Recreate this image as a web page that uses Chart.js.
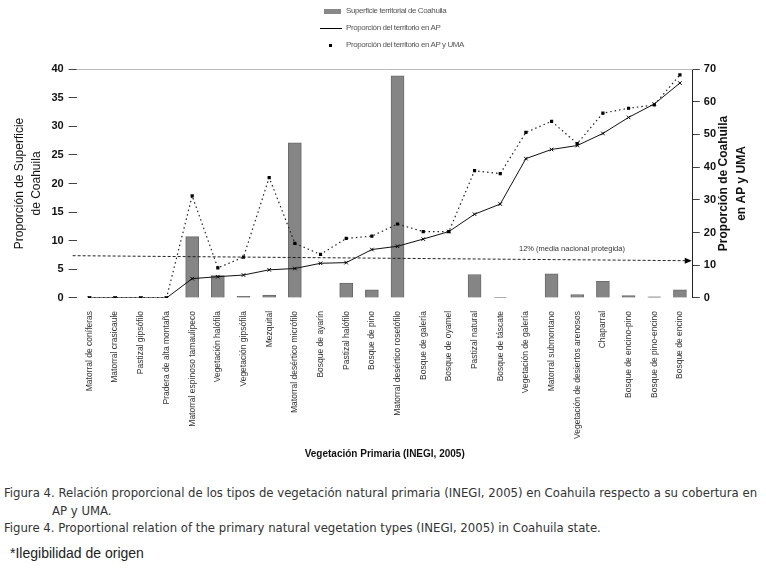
<!DOCTYPE html>
<html>
<head>
<meta charset="utf-8">
<script src="https://cdn.jsdelivr.net/npm/chart.js@4.4.1/dist/chart.umd.min.js"></script>
<style>
  body { margin: 0; background: #fff; width: 766px; height: 569px; overflow: hidden; position: relative; font-family: "Liberation Sans", Arial, sans-serif; }
  #wrap { position: absolute; left: 0; top: 0; width: 766px; height: 470px; }
  #legend { position: absolute; left: 320px; top: 2px; font-size: 8px; color: #555; letter-spacing: -0.4px; }
  #legend div { height: 17px; display: flex; align-items: center; }
  #legend span.sw { display: inline-block; width: 22px; margin-right: 4px; position: relative; height: 8px; }
  #caption { position: absolute; left: 4px; top: 484px; font-family: "Liberation Sans Narrow", "DejaVu Sans Condensed", sans-serif; font-size: 13px; color: #333; line-height: 17.5px; white-space: nowrap; }
  #note { position: absolute; left: 10px; top: 545px; font-size: 14px; color: #222; }
</style>
</head>
<body>
<div id="wrap"><canvas id="chart" width="766" height="470"></canvas></div>
<div id="legend">
  <div><span class="sw"><i style="position:absolute;left:4px;top:2px;width:17px;height:5px;background:#888"></i></span>Superficie territorial de Coahuila</div>
  <div><span class="sw"><i style="position:absolute;left:0;top:4px;width:22px;height:1px;background:#000"></i></span>Proporción del territorio en AP</div>
  <div><span class="sw"><i style="position:absolute;left:9px;top:3px;width:3px;height:3px;background:#000"></i></span>Proporción del territorio en AP y UMA</div>
</div>
<div id="caption">
  <div>Figura 4. Relación proporcional de los tipos de vegetación natural primaria (INEGI, 2005) en Coahuila respecto a su cobertura en</div>
  <div style="padding-left:48px">AP y UMA.</div>
  <div>Figure 4. Proportional relation of the primary natural vegetation types (INEGI, 2005) in Coahuila state.</div>
</div>
<div id="note">*Ilegibilidad de origen</div>
<script>
const categories = [
  "Matorral de coníferas", "Matorral crasicaule", "Pastizal gipsófilo", "Pradera de alta montaña",
  "Matorral espinoso tamaulipeco", "Vegetación halófila", "Vegetación gipsófila", "Mezquital",
  "Matorral desértico micrófilo", "Bosque de ayarín", "Pastizal halófilo", "Bosque de pino",
  "Matorral desértico rosetófilo", "Bosque de galería", "Bosque de oyamel", "Pastizal natural",
  "Bosque de táscate", "Vegetación de galería", "Matorral submontano", "Vegetación de desiertos arenosos",
  "Chaparral", "Bosque de encino-pino", "Bosque de pino-encino", "Bosque de encino"
];
// % of Coahuila surface (left axis)
const surface = [0, 0, 0, 0, 10.7, 3.9, 0.3, 0.5, 27.1, 0, 2.6, 1.4, 38.8, 0, 0, 4.1, 0.1, 0, 4.2, 0.6, 2.9, 0.4, 0.2, 1.4];
// % of each type inside AP (right axis)
const inAP = [0, 0, 0, 0, 5.9, 6.5, 7, 8.6, 9, 10.6, 10.8, 14.8, 15.8, 18, 20.3, 25.6, 28.7, 42.6, 45.4, 46.6, 50.3, 55.2, 59.3, 65.7];
// % of each type inside AP and UMA (right axis)
const inAPUMA = [0, 0, 0, 0, 31.2, 9.2, 12.5, 36.8, 16.7, 13.3, 18.2, 18.9, 22.6, 20.3, 20.3, 38.9, 38, 50.6, 54, 47.2, 56.5, 58, 59, 68.2];
const leftTicks = [0, 5, 10, 15, 20, 25, 30, 35, 40];
const rightTicks = [0, 10, 20, 30, 40, 50, 60, 70];
const rightTitle = ["Proporción de Coahuila", "en AP y UMA"];
const nationalMean = 12;
const nationalLabel = "12% (media nacional protegida)";

const meanLine = {
  id: "meanLine",
  afterDatasetsDraw(chart) {
    const { ctx, chartArea } = chart;
    const y = chart.scales.yR.getPixelForValue(nationalMean);
    ctx.save();
    ctx.strokeStyle = "#222";
    ctx.lineWidth = 1;
    ctx.setLineDash([3, 2]);
    ctx.beginPath();
    ctx.moveTo(chartArea.left - 4, y - 3);
    ctx.lineTo(chartArea.right - 6, y + 2);
    ctx.stroke();
    ctx.setLineDash([]);
    ctx.beginPath();
    ctx.moveTo(chartArea.right - 1, y + 2);
    ctx.lineTo(chartArea.right - 8, y - 1);
    ctx.lineTo(chartArea.right - 8, y + 5);
    ctx.closePath();
    ctx.fillStyle = "#000";
    ctx.fill();
    ctx.font = "7.5px 'Liberation Sans Narrow', 'Liberation Sans', sans-serif";
    ctx.fillStyle = "#333";
    ctx.textBaseline = "bottom";
    ctx.fillText(nationalLabel, 519, y - 6);
    ctx.restore();
  }
};

// right title reads bottom-to-top like the left one
const rightTitlePlugin = {
  id: "rightTitle",
  afterDraw(chart) {
    const { ctx, chartArea } = chart;
    const cy = (chartArea.top + chartArea.bottom) / 2;
    ctx.save();
    ctx.font = "bold 12px 'Liberation Sans', Arial, sans-serif";
    ctx.fillStyle = "#111";
    ctx.textAlign = "center";
    ctx.textBaseline = "middle";
    [724, 742].forEach((x, i) => {
      ctx.save();
      ctx.translate(x, cy);
      ctx.rotate(-Math.PI / 2);
      ctx.fillText(rightTitle[i], 0, 0);
      ctx.restore();
    });
    ctx.restore();
  }
};

const topRule = {
  id: "topRule",
  beforeDatasetsDraw(chart) {
    const { ctx, chartArea } = chart;
    ctx.save();
    ctx.strokeStyle = "#bbb";
    ctx.lineWidth = 1;
    ctx.beginPath();
    ctx.moveTo(chartArea.left, chartArea.top + 0.5);
    ctx.lineTo(chartArea.right, chartArea.top + 0.5);
    ctx.stroke();
    ctx.restore();
  }
};

new Chart(document.getElementById("chart").getContext("2d"), {
  data: {
    labels: categories,
    datasets: [
      {
        type: "line", label: "Proporción del territorio en AP", data: inAP, yAxisID: "yR", order: 1,
        borderColor: "#111", borderWidth: 1, pointStyle: "crossRot", pointRadius: 2.5,
        pointBorderColor: "#000", pointBorderWidth: 1, tension: 0
      },
      {
        type: "line", label: "Proporción del territorio en AP y UMA", data: inAPUMA, yAxisID: "yR", order: 2,
        borderColor: "#222", borderWidth: 1.2, borderDash: [1.5, 3], pointStyle: "rect", pointRadius: 1.4,
        pointBackgroundColor: "#000", pointBorderColor: "#000", tension: 0
      },
      {
        type: "bar", label: "Superficie territorial de Coahuila", data: surface, yAxisID: "yL", order: 3,
        backgroundColor: "#858585", borderColor: "#6a6a6a", borderWidth: 1, barThickness: 13
      }
    ]
  },
  options: {
    responsive: false,
    animation: false,
    layout: { padding: { top: 69, left: 8, right: 46, bottom: 10 } },
    plugins: { legend: { display: false }, tooltip: { enabled: false } },
    scales: {
      x: {
        offset: true,
        grid: { display: false },
        border: { display: false },
        ticks: { autoSkip: false, maxRotation: 90, minRotation: 90, padding: 5, color: "#333",
                 font: { size: 8.5, family: "'Liberation Sans', Arial, sans-serif" } },
        title: { display: true, text: "Vegetación Primaria (INEGI, 2005)", color: "#111", padding: { top: 4, bottom: 0 },
                 font: { size: 10, weight: "bold", family: "'Liberation Sans', Arial, sans-serif" } }
      },
      yL: {
        position: "left", min: 0, max: 40,
        afterBuildTicks: (s) => { s.ticks = leftTicks.map(v => ({ value: v })); },
        grid: { display: true, drawOnChartArea: false, tickLength: 8, color: "#444" },
        border: { display: false },
        ticks: { color: "#111", padding: 5, font: { size: 11, weight: "bold", family: "'Liberation Sans', Arial, sans-serif" } },
        title: { display: true, text: ["Proporción de Superficie", "de Coahuila"], color: "#111", padding: { bottom: 2 },
                 font: { size: 12, lineHeight: 1.35, family: "'Liberation Sans', Arial, sans-serif" } }
      },
      yR: {
        position: "right", min: 0, max: 70,
        afterBuildTicks: (s) => { s.ticks = rightTicks.map(v => ({ value: v })); },
        grid: { display: true, drawOnChartArea: false, tickLength: 7, color: "#444" },
        border: { display: true, color: "#222", width: 1 },
        ticks: { color: "#111", padding: 4, font: { size: 11, weight: "bold", family: "'Liberation Sans', Arial, sans-serif" } }
      }
    }
  },
  plugins: [meanLine, topRule, rightTitlePlugin]
});
</script>
</body>
</html>
